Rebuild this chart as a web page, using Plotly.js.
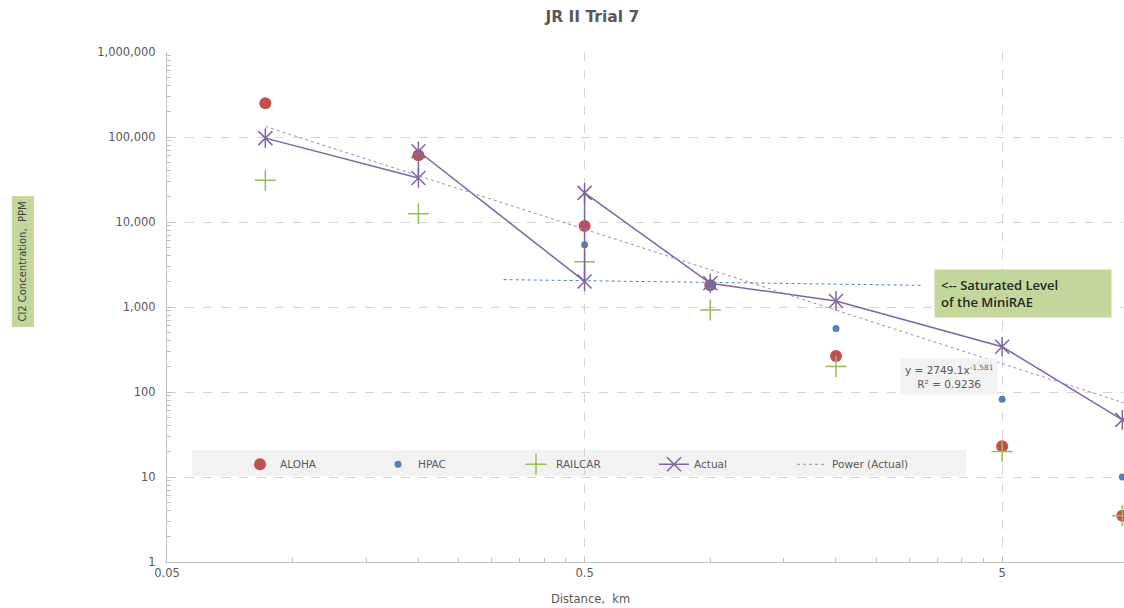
<!DOCTYPE html>
<html>
<head>
<meta charset="utf-8">
<script src="https://cdn.plot.ly/plotly-3.0.1.min.js"></script>
<style>html,body{margin:0;padding:0;background:#fff;}#chart{width:1124px;height:608px;}</style>
</head>
<body>
<div id="chart"></div>
<script>
// ---- data ----
const distance = [0.086, 0.2, 0.5, 1, 2, 5, 9.7];
const alohaPPM = [250000, 61000, 9000, 1800, 265, 23, 3.5];
const hpacDistance = [0.5, 1, 2, 5, 9.7];
const hpacPPM = [5400, 1750, 560, 82, 10];
const railcarPPM = [31000, 12500, 3400, 920, 200, 20, 3.5];
const actualDistance = [0.086, 0.2, 0.2, 0.5, 0.5, 1, 2, 5, 9.7];
const actualPPM = [97000, 33000, 68000, 2000, 22000, 1900, 1175, 340, 47];
const powerDistance = [0.086, 10];
const powerPPM = [133000, 72];
const saturatedDistance = [0.32, 3.2];
const saturatedPPM = [2100, 1800];
const yTickVals = [1, 10, 100, 1000, 10000, 100000, 1000000];
const yTickText = ["1", "10", "100", "1,000", "10,000", "100,000", "1,000,000"];
const xTickVals = [0.05, 0.5, 5];
const xTickText = ["0.05", "0.5", "5"];

const yMinor = [];
for (let d = 0; d < 6; d++) for (let k = 2; k <= 9; k++) yMinor.push(k * Math.pow(10, d));
const xMinor = [];
[0.05, 0.5, 5].forEach(b => { for (let k = 2; k <= 9; k++) xMinor.push(b * k); });

const grey = '#595959';
const font = 'DejaVu Sans, Verdana, sans-serif';

const traces = [
  {x: distance, y: alohaPPM, name: 'ALOHA', mode: 'markers', type: 'scatter',
   marker: {color: '#c0504d', size: 12, symbol: 'circle'}},
  {x: hpacDistance, y: hpacPPM, name: 'HPAC', mode: 'markers', type: 'scatter',
   marker: {color: '#4f81bd', size: 7, symbol: 'circle'}},
  {x: distance, y: railcarPPM, name: 'RAILCAR', mode: 'markers', type: 'scatter',
   marker: {color: '#9bbb59', size: 15, symbol: 'cross-thin-open', line: {color: '#9bbb59', width: 1.5}}},
  {x: actualDistance, y: actualPPM, name: 'Actual', mode: 'lines+markers', type: 'scatter',
   line: {color: '#8064a2', width: 1.5},
   marker: {color: '#8064a2', size: 14, symbol: 'x-thin-open', line: {color: '#8064a2', width: 1.5}}},
  {x: powerDistance, y: powerPPM, name: 'Power (Actual)', mode: 'lines', type: 'scatter',
   line: {color: '#9d8bbf', width: 1, dash: 'dot'}},
  {x: actualDistance, y: actualPPM, mode: 'markers', type: 'scatter', showlegend: false, hoverinfo: 'skip',
   marker: {color: '#8064a2', size: 14, symbol: 'line-ns-open', line: {color: '#8064a2', width: 1.5}}},
  {x: saturatedDistance, y: saturatedPPM, mode: 'lines', type: 'scatter', showlegend: false,
   line: {color: '#4f81bd', width: 1, dash: 'dot'}}
];

const layout = {
  width: 1124, height: 608,
  margin: {l: 167, r: 0, t: 52, b: 46},
  paper_bgcolor: '#ffffff', plot_bgcolor: '#ffffff',
  font: {family: font, color: grey, size: 10},
  title: {text: 'JR II Trial 7', font: {size: 15.5, color: grey, family: font, weight: 'bold'},
          xref: 'container', x: 0.527, xanchor: 'center', y: 0.972, yanchor: 'middle'},
  showlegend: true,
  legend: {orientation: 'h', x: 0.0763, xanchor: 'left', y: 0.22, yanchor: 'top',
           bgcolor: 'rgba(0,0,0,0)', font: {size: 10.5, color: grey, family: font},
           entrywidth: 93, entrywidthmode: 'pixels', traceorder: 'normal'},
  xaxis: {type: 'log', range: [Math.log10(0.05), Math.log10(9.79)],
          tickvals: xTickVals, ticktext: xTickText, ticks: 'inside', ticklen: 5, tickcolor: '#bfbfbf',
          showline: true, linecolor: '#bfbfbf', linewidth: 1, zeroline: false,
          showgrid: true, gridcolor: '#d4d4d4', griddash: 'dash', gridwidth: 1,
          tickfont: {size: 11.5, color: grey},
          minor: {tickvals: xMinor, ticks: 'inside', ticklen: 4, tickcolor: '#bfbfbf', showgrid: false}},
  yaxis: {type: 'log', range: [0, 6],
          tickvals: yTickVals, ticktext: yTickText, ticks: 'inside', ticklen: 5, tickcolor: '#bfbfbf',
          showline: true, linecolor: '#bfbfbf', linewidth: 1, zeroline: false,
          showgrid: true, gridcolor: '#d4d4d4', griddash: 'dash', gridwidth: 1,
          tickfont: {size: 11.5, color: grey}, ticklabelstandoff: 8,
          minor: {tickvals: yMinor, ticks: 'inside', ticklen: 4, tickcolor: '#bfbfbf', showgrid: false}},
  shapes: [
    {type: 'rect', xref: 'paper', yref: 'paper', x0: 0.026, x1: 0.835, y0: 0.1686, y1: 0.2196,
     fillcolor: '#f2f2f2', line: {width: 0}, layer: 'between'}
  ],
  annotations: [
    {text: 'Distance,  km', xref: 'paper', yref: 'paper', x: 0.443, y: -0.0725,
     xanchor: 'center', yanchor: 'middle', showarrow: false, font: {size: 11.5, color: grey}},
    {text: 'Cl2 Concentration,  PPM', textangle: -90, xref: 'paper', yref: 'paper',
     x: -0.151, y: 0.59, xanchor: 'center', yanchor: 'middle', showarrow: false,
     bgcolor: '#c3d69b', font: {size: 10, color: '#404040'}, borderpad: 5},
    {text: '<-- Saturated Level<br>of the MiniRAE', align: 'left', xref: 'paper', yref: 'paper',
     x: 0.8015, y: 0.527, xanchor: 'left', yanchor: 'middle', showarrow: false,
     bgcolor: '#c3d69b', font: {size: 13, color: '#262626', family: 'Open Sans, sans-serif', weight: 600},
     borderpad: 6, width: 164},
    {text: 'y = 2749.1x<sup>-1.581</sup><br>R² = 0.9236', xref: 'paper', yref: 'paper',
     x: 0.817, y: 0.363, xanchor: 'center', yanchor: 'middle', showarrow: false,
     bgcolor: '#f2f2f2', font: {size: 10.5, color: grey}, borderpad: 4}
  ]
};

Plotly.newPlot('chart', traces, layout, {displayModeBar: false, staticPlot: true});
</script>
</body>
</html>
